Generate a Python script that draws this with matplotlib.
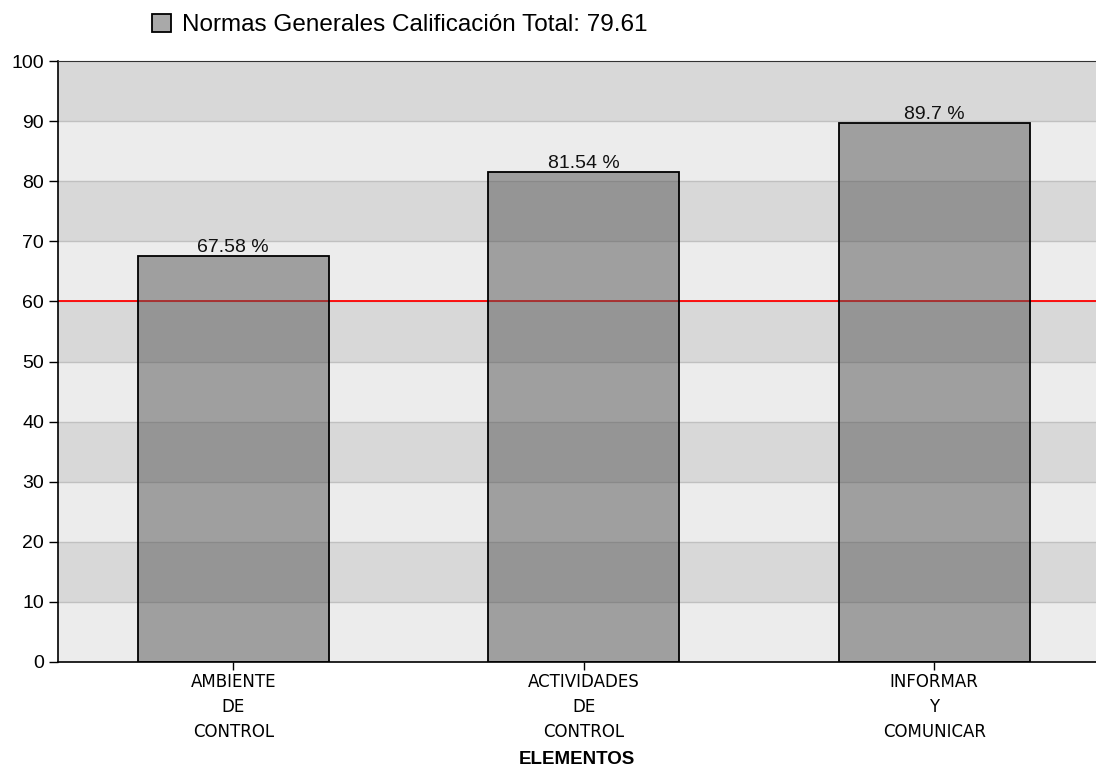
import numpy as np
import matplotlib
matplotlib.use('Agg')
import matplotlib.pyplot as plt

plt.rcParams['font.family'] = ['Liberation Sans', 'DejaVu Sans']

categorias = ['AMBIENTE\nDE\nCONTROL', 'ACTIVIDADES\nDE\nCONTROL', 'INFORMAR\nY\nCOMUNICAR']
valores = [67.58, 81.54, 89.7]
etiquetas = ['67.58 %', '81.54 %', '89.7 %']
serie = 'Normas Generales Calificación Total: 79.61'
meta = 60
yticks = list(range(0, 101, 10))

fig = plt.figure(figsize=(10.96, 7.70), dpi=100)
ax = fig.add_axes([58/1096, 108/770, 1038/1096, 601/770])

# bandas alternas de fondo
for i in range(len(yticks) - 1):
    color = '#ececec' if i % 2 == 0 else '#d8d8d8'
    ax.axhspan(yticks[i], yticks[i+1], color=color, zorder=0, lw=0)
for t in yticks[1:-1]:
    ax.axhline(t, color='#c0c0c0', lw=1, zorder=1)

x = np.arange(len(categorias))
barras = ax.bar(x, valores, width=0.545, color=(0.33, 0.33, 0.33, 0.5),
                edgecolor='black', lw=1.3, zorder=3, label=serie)

ax.axhline(meta, color='red', lw=1.3, zorder=2)

for xi, v, txt in zip(x, valores, etiquetas):
    ax.text(xi, v, txt, ha='center', va='bottom', fontsize=14,
            color='#111111', zorder=4)

ax.set_xlim(-0.5, -0.5 + 1038/350.5)
ax.set_ylim(0, 100)
ax.set_yticks(yticks)
ax.set_xticks(x)
ax.set_xticklabels(categorias, fontsize=12, family='DejaVu Sans', linespacing=1.5)
ax.tick_params(axis='y', labelsize=14, length=6.5, width=1, pad=3.5)
ax.tick_params(axis='x', length=6, width=1, pad=2)
ax.set_xlabel('ELEMENTOS', fontsize=13.5, fontweight='bold', va='center')
ax.xaxis.set_label_coords(0.5, (662 - 760) / 601)

ax.spines['right'].set_visible(False)
ax.spines['top'].set_color('#333333')
ax.spines['left'].set_linewidth(1.2)
ax.spines['bottom'].set_linewidth(1.2)

fig.legend(handles=[barras], loc='center left', bbox_to_anchor=(152/1096, 1 - 25/770),
           frameon=False, fontsize=17.5, handlelength=0.78, handleheight=0.78,
           handletextpad=0.45, borderaxespad=0, borderpad=0)

fig.savefig('out.png', dpi=100)
